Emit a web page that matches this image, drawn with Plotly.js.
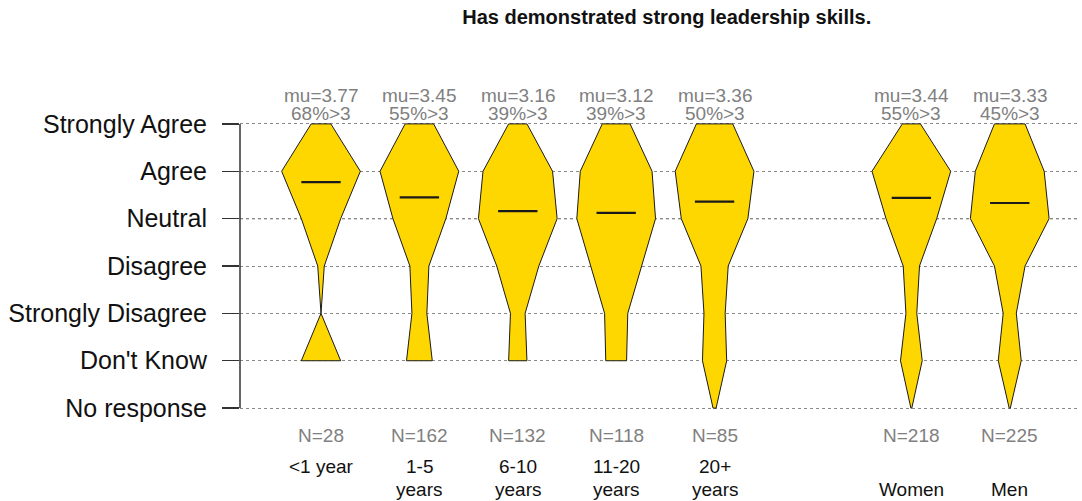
<!DOCTYPE html>
<html>
<head>
<meta charset="utf-8">
<script src="https://cdn.plot.ly/plotly-3.0.1.min.js"></script>
<style>
  html, body { margin: 0; padding: 0; background: #fff; }
  #chart { width: 1082px; height: 501px; }
</style>
</head>
<body>
<div id="chart"></div>
<script>
// response levels, bottom to top
const levelNames = ['No response', "Don't Know", 'Strongly Disagree', 'Disagree', 'Neutral', 'Agree', 'Strongly Agree'];
const levelValues = [-1, 0, 1, 2, 3, 4, 5];

// groups (tenure, then gender)
const groupNames = [['<1 year'], ['1-5', 'years'], ['6-10', 'years'], ['11-20', 'years'], ['20+', 'years'], ['', 'Women'], ['', 'Men']];
const groupPanel = ['tenure', 'tenure', 'tenure', 'tenure', 'tenure', 'gender', 'gender'];

// counts per level, same order as levelNames
const countsLt1 = [0, 6, 0, 1, 6, 12, 3];
const counts1to5 = [0, 19, 11, 14, 39, 58, 21];
const counts6to10 = [0, 10, 8, 23, 43, 38, 10];
const counts11to20 = [0, 9, 10, 22, 34, 31, 12];
const counts20plus = [1, 8, 7, 9, 22, 26, 12];
const countsWomen = [1, 24, 12, 18, 56, 87, 20];
const countsMen = [1, 21, 12, 28, 72, 63, 28];
const groupCounts = [countsLt1, counts1to5, counts6to10, counts11to20, counts20plus, countsWomen, countsMen];

const muValues = [3.77, 3.45, 3.16, 3.12, 3.36, 3.44, 3.33];
const pctAbove3 = [68, 55, 39, 39, 50, 55, 45];
const nValues = [28, 162, 132, 118, 85, 218, 225];

const FONT = 'Liberation Sans, Arial, sans-serif';
const GOLD = '#FFD700';
const GREY = '#808080';
const HALF = 0.4;

// x position of each group, with a one-slot gap between panels
const xPos = [];
groupPanel.forEach(function (p, i) {
    if (i === 0) { xPos.push(1); return; }
    xPos.push(xPos[i - 1] + (p === groupPanel[i - 1] ? 1 : 2));
});

function violinTrace(counts, x0) {
    const maxC = Math.max.apply(null, counts);
    let lo = 0, hi = counts.length - 1;
    while (counts[lo] === 0) lo++;
    while (counts[hi] === 0) hi--;
    const xs = [], ys = [];
    for (let k = lo; k <= hi; k++) {
        xs.push(x0 + HALF * counts[k] / maxC);
        ys.push(levelValues[k]);
    }
    for (let k = hi; k >= lo; k--) {
        xs.push(x0 - HALF * counts[k] / maxC);
        ys.push(levelValues[k]);
    }
    xs.push(xs[0]);
    ys.push(ys[0]);
    return {
        x: xs, y: ys, type: 'scatter', mode: 'lines',
        fill: 'toself', fillcolor: GOLD,
        line: { color: '#1a1a1a', width: 1 },
        hoverinfo: 'skip'
    };
}

const data = [];
groupCounts.forEach(function (c, i) {
    data.push(violinTrace(c, xPos[i]));
});
muValues.forEach(function (m, i) {
    data.push({
        x: [xPos[i] - 0.2, xPos[i] + 0.2], y: [m, m],
        type: 'scatter', mode: 'lines',
        line: { color: '#1a1a1a', width: 2.2 },
        hoverinfo: 'skip'
    });
});

const annotations = [];
function addText(text, x, yref, y, yshift, color) {
    annotations.push({
        text: text, x: x, xref: 'x', y: y, yref: yref, yshift: yshift,
        xanchor: 'center', yanchor: 'middle', showarrow: false,
        font: { family: FONT, size: 19, color: color }
    });
}
xPos.forEach(function (x, i) {
    addText('mu=' + muValues[i].toFixed(2), x, 'paper', 1, 27, GREY);
    addText(pctAbove3[i] + '%>3', x, 'paper', 1, 9, GREY);
    addText('N=' + nValues[i], x, 'paper', 0, -25, GREY);
    groupNames[i].forEach(function (line, j) {
        if (line) addText(line, x, 'paper', 0, -56 - 23 * j, '#111');
    });
});

const layout = {
    width: 1082, height: 501,
    margin: { l: 240, r: 2, t: 122, b: 91 },
    paper_bgcolor: '#fff', plot_bgcolor: '#fff',
    showlegend: false, hovermode: false,
    title: {
        text: 'Has demonstrated strong leadership skills.',
        font: { family: FONT, size: 20, color: '#111', weight: 'bold' },
        x: 0.508, xref: 'paper', xanchor: 'center',
        y: 1 - 17 / 501, yanchor: 'middle'
    },
    xaxis: {
        range: [0.1768, 8.714], showgrid: false, zeroline: false,
        showticklabels: false, ticks: '', showline: false
    },
    yaxis: {
        range: [-1.04, 5.04], tickvals: levelValues, ticktext: levelNames,
        ticks: 'outside', ticklen: 17, tickwidth: 1.5, tickcolor: '#333',
        ticklabelstandoff: 10,
        tickfont: { family: FONT, size: 25, color: '#111' },
        showgrid: true, gridcolor: '#8a8a8a', griddash: 'dot', gridwidth: 1,
        zeroline: false, showline: false
    },
    shapes: [
        { type: 'line', xref: 'paper', yref: 'y', x0: 0, x1: 0, y0: -1, y1: 5,
          line: { color: '#333', width: 1.5 } },
        { type: 'line', xref: 'paper', yref: 'y', x0: 0, x1: 1, y0: 3, y1: 3,
          line: { color: '#555', width: 1.3, dash: 'dot' }, layer: 'below' }
    ],
    annotations: annotations
};

Plotly.newPlot('chart', data, layout, { displayModeBar: false, staticPlot: true });
</script>
</body>
</html>
